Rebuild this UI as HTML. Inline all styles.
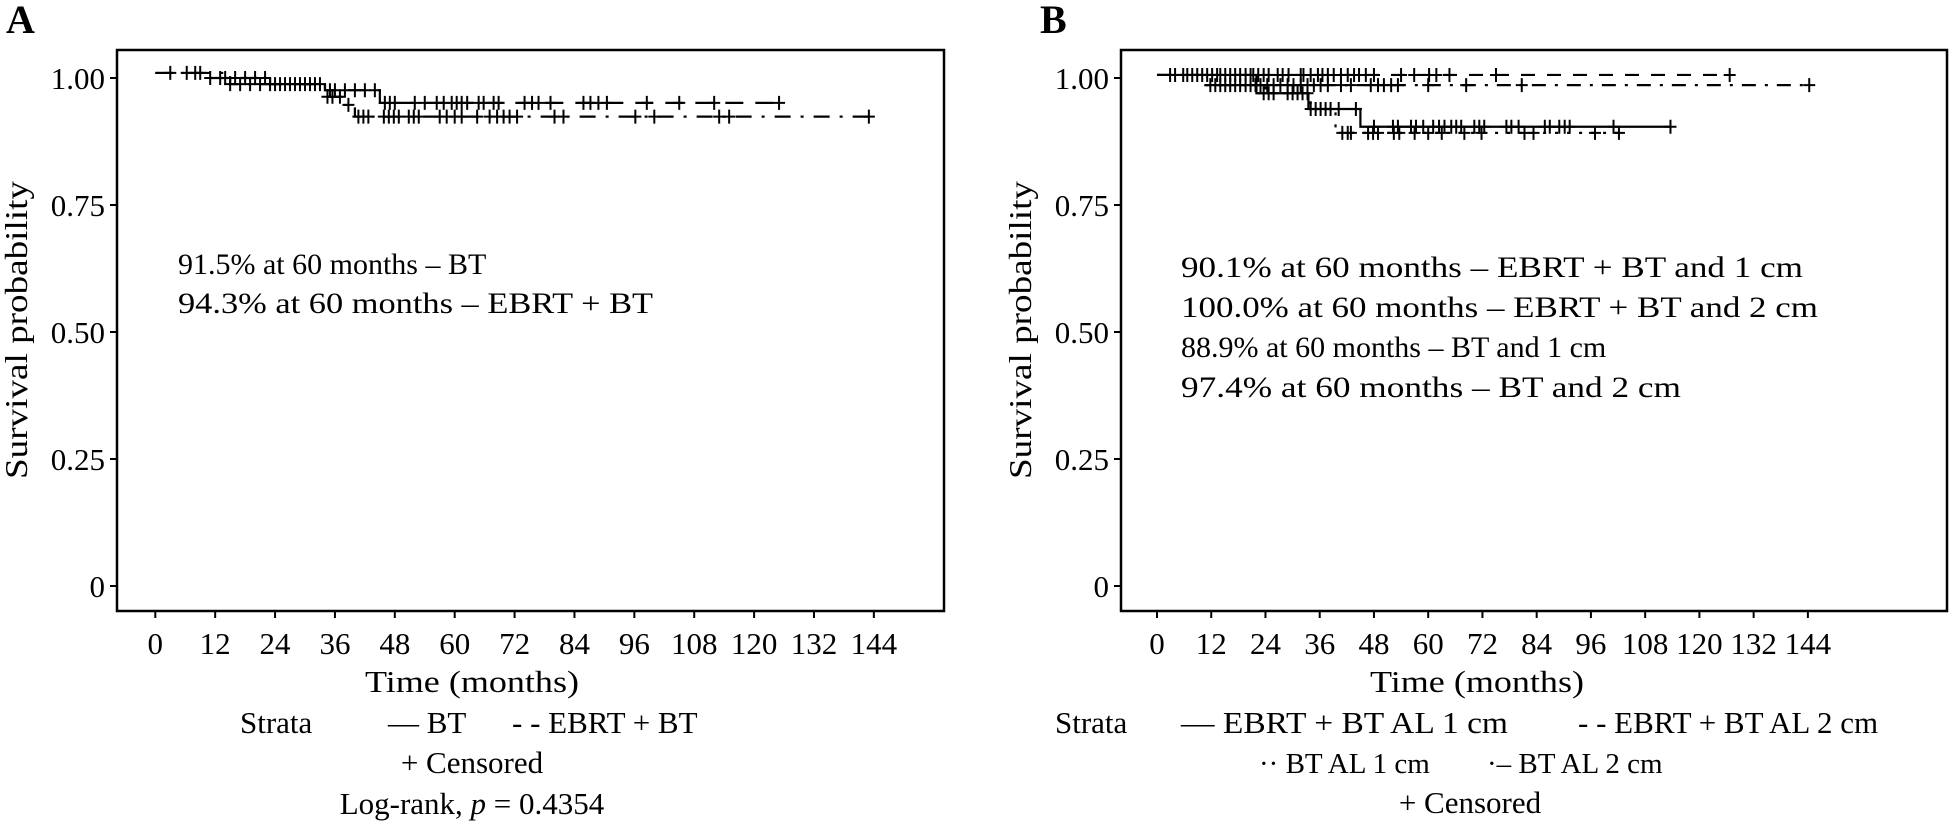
<!DOCTYPE html>
<html><head><meta charset="utf-8">
<style>
html,body{margin:0;padding:0;background:#fff;}
svg{display:block;font-family:"Liberation Serif",serif;}
text{fill:#000;}
</style></head>
<body>
<svg id="fig" width="1950" height="822" viewBox="0 0 1950 822"></svg>
<script>
// ---------- Panel A data ----------
const ticksX = [0,12,24,36,48,60,72,84,96,108,120,132,144];
const ticksY = [0,0.25,0.5,0.75,1.0];
const ticksYLabels = ["0","0.25","0.50","0.75","1.00"];

const aUpperTimes = [0,10,23,34,45];
const aUpperSurv  = [1.01,1.0,0.988,0.976,0.951];
const aUpperEnd   = 126;
const aUpperCens  = [3,6.3,8,9,11,13,14,16,18,20,22,24,26,28,30,32,35,36,38,40,42,44,46,47,48,52,54,56.4,57.8,59.4,60.4,61.4,62.5,64.8,65.8,67.8,68.8,74,75.5,76.8,79.2,85.8,87.2,88.8,90.5,98.5,105,112,125];

const aLowerTimes = [0,15,34,38,40];
const aLowerSurv  = [1.01,0.988,0.963,0.947,0.924];
const aLowerEnd   = 144;
const aLowerCens  = [15,17,19,21,23,25,27,29,31,33,34.5,35.5,37,38.7,40.7,41.7,42.7,45.8,46.8,47.8,48.8,50.8,51.8,52.8,57,58.4,60,61.4,64.5,67,68.5,69.8,71,72.5,80,81.8,96.2,100,113,115,143];

// ---------- Panel B data ----------
const b1Times = [0,22,33.5,45];
const b1Surv  = [1.006,0.97,0.939,0.904];
const b1End   = 113.6;
const b1Cens  = [23.6,24.7,25.8,28.9,30,31.1,32.2,33.3,34,35.1,36.2,37.3,38.4,40.2,44,48,52.2,53.3,56.2,57.3,58.9,61.1,62.4,63.6,65.1,66.2,67.3,70.2,71.3,72.4,77.3,78.4,80,85.8,86.9,89,90.2,91.3,101,113.6];

const b2Times = [0];
const b2Surv  = [1.006];
const b2End   = 126.7;
const b2Cens  = [2.9,4,5.8,6.7,7.8,8.9,10,11.1,12.2,13.3,14,15.1,16.2,17.3,18.4,19.6,20.7,21.3,22.4,23.6,24.7,26.7,27.8,29.1,31.8,32.4,34,35.6,36.6,37.8,39.1,40.7,42.2,43.6,44.7,46.2,48,54,56.9,60.2,61.8,64.7,75,126.7];

const b3Times = [0,11,24,34,39.5];
const b3Surv  = [1.006,0.986,0.970,0.939,0.892];
const b3End   = 102.2;
const b3Cens  = [41,42.2,42.9,46.7,47.8,48.9,52.4,53.6,57,60,63,68,71.8,81.3,83.3,96.9,102.2];

const b4Times = [0,10.7];
const b4Surv  = [1.006,0.986];
const b4End   = 144.3;
const b4Cens  = [11.8,12.9,14,15.1,16.2,17.3,18.4,19.6,20.7,21.8,22.9,24.4,25.8,27.3,28.9,30.2,31.8,33.3,34.7,36.2,37.8,40.7,42.9,47.3,48.9,50.2,51.8,53.3,60,68.4,80.7,144.3];

const NS = "http://www.w3.org/2000/svg";
const svg = document.getElementById('fig');
function mk(tag, attrs, parent){
  const e = document.createElementNS(NS, tag);
  for (const k in attrs) e.setAttribute(k, attrs[k]);
  (parent||svg).appendChild(e);
  return e;
}
function txt(s, x, y, size, anchor, parent){
  const t = mk('text', {x:x, y:y, 'font-size':size, 'text-anchor':anchor||'start'}, parent);
  t.textContent = s;
  return t;
}

function panel(cfg){
  const g = mk('g', {});
  
  
  const xS = t => cfg.x0 + t*cfg.px;
  const yS = s => cfg.yZero - s*(cfg.yZero-cfg.yOne);
  const fr = mk('rect', {x:cfg.left, y:cfg.top, width:cfg.right-cfg.left, height:cfg.bottom-cfg.top, fill:'none', stroke:'#000', 'stroke-width':2.5}, g);
  
  
  ticksY.forEach((v,i)=>{
    const y = yS(v);
    const tk = mk('line', {x1:cfg.left-7, x2:cfg.left, y1:y, y2:y, stroke:'#000','stroke-width':2}, g);
    
    
    const l = txt(ticksYLabels[i], cfg.left-12, y+11, 31, 'end', g);
    
    
  });
  ticksX.forEach(v=>{
    const x = xS(v);
    const tk = mk('line', {x1:x, x2:x, y1:cfg.bottom, y2:cfg.bottom+7, stroke:'#000','stroke-width':2}, g);
    
    
    const l = txt(String(v), x, 654, 31, 'middle', g);
    
    
  });
  cfg.series.forEach(s=>{
    let d = 'M' + xS(s.times[0]) + ',' + yS(s.surv[0]);
    for (let i=1;i<s.times.length;i++){
      d += ' H' + xS(s.times[i]) + ' V' + yS(s.surv[i]);
    }
    d += ' H' + xS(s.end);
    const p = mk('path', {d:d, fill:'none', stroke:'#000', 'stroke-width':2.2, 'stroke-dasharray':s.dash}, g);
    
    
    const survAt = t => { let v = s.surv[0]; for (let i=0;i<s.times.length;i++) if (s.times[i] <= t) v = s.surv[i]; return v; };
    s.cens.forEach(t=>{
      const x = xS(t), y = yS(survAt(t));
      const c = mk('path', {d:`M${x-6},${y} H${x+6} M${x},${y-7} V${y+7}`, stroke:'#000', 'stroke-width':2, fill:'none'}, g);
      
      
    });
  });
  return g;
}

panel({name:'panel-a', left:117, right:944, top:50, bottom:611, x0:155.3, px:4.99, yZero:586, yOne:78,
  series:[
    {name:'ebrt-bt', times:aUpperTimes, surv:aUpperSurv, end:aUpperEnd, cens:aUpperCens, dash:'18 12'},
    {name:'bt', times:aLowerTimes, surv:aLowerSurv, end:aLowerEnd, cens:aLowerCens, dash:'16 10 3 10'}
  ]});
panel({name:'panel-b', left:1121, right:1947, top:50, bottom:611, x0:1157, px:4.52, yZero:586, yOne:78,
  series:[
    {name:'ebrt-bt-al-1cm', times:b1Times, surv:b1Surv, end:b1End, cens:b1Cens, dash:'none'},
    {name:'ebrt-bt-al-2cm', times:b2Times, surv:b2Surv, end:b2End, cens:b2Cens, dash:'14 12'},
    {name:'bt-al-1cm', times:b3Times, surv:b3Surv, end:b3End, cens:b3Cens, dash:'3 9'},
    {name:'bt-al-2cm', times:b4Times, surv:b4Surv, end:b4End, cens:b4Cens, dash:'14 9 3 9'}
  ]});
</script>
<svg width="1950" height="822" style="position:absolute;left:0;top:0;font-family:'Liberation Serif',serif">
  <text x="6" y="33" font-size="40" font-weight="bold">A</text>
  <text x="1040" y="33" font-size="40" font-weight="bold">B</text>
  <text transform="translate(27,330) rotate(-90)" text-anchor="middle" font-size="32" textLength="298" lengthAdjust="spacingAndGlyphs">Survival probability</text>
  <text transform="translate(1031,330) rotate(-90)" text-anchor="middle" font-size="32" textLength="298" lengthAdjust="spacingAndGlyphs">Survival probability</text>
  <g font-size="30">
  <text x="178" y="274">91.5% at 60 months – BT</text>
  <text x="178" y="313" textLength="475" lengthAdjust="spacingAndGlyphs">94.3% at 60 months – EBRT + BT</text>
  <text x="1181" y="277" textLength="622" lengthAdjust="spacingAndGlyphs">90.1% at 60 months – EBRT + BT and 1 cm</text>
  <text x="1181" y="317" textLength="637" lengthAdjust="spacingAndGlyphs">100.0% at 60 months – EBRT + BT and 2 cm</text>
  <text x="1181" y="357">88.9% at 60 months – BT and 1 cm</text>
  <text x="1181" y="397" textLength="500" lengthAdjust="spacingAndGlyphs">97.4% at 60 months – BT and 2 cm</text>
  </g>
  <text x="472" y="692" font-size="31" text-anchor="middle" textLength="214" lengthAdjust="spacingAndGlyphs">Time (months)</text>
  <text x="1477" y="692" font-size="31" text-anchor="middle" textLength="214" lengthAdjust="spacingAndGlyphs">Time (months)</text>
  <g font-size="31">
    <text x="240" y="733">Strata</text>
    <text x="388" y="733">— BT</text>
    <text x="512" y="733">- - EBRT + BT</text>
    <text x="472" y="773" text-anchor="middle">+ Censored</text>
    <text x="472" y="814" text-anchor="middle">Log-rank, <tspan font-style="italic">p</tspan> = 0.4354</text>
  </g>
  <g font-size="31">
    <text x="1055" y="733">Strata</text>
    <text x="1181" y="733" textLength="327" lengthAdjust="spacingAndGlyphs">— EBRT + BT AL 1 cm</text>
    <text x="1578" y="733">- - EBRT + BT AL 2 cm</text>
    <text x="1259" y="773" font-size="29">·· BT AL 1 cm</text>
    <text x="1487" y="773" font-size="29">·– BT AL 2 cm</text>
    <text x="1470" y="813" text-anchor="middle">+ Censored</text>
  </g>
</svg>
</body></html>
